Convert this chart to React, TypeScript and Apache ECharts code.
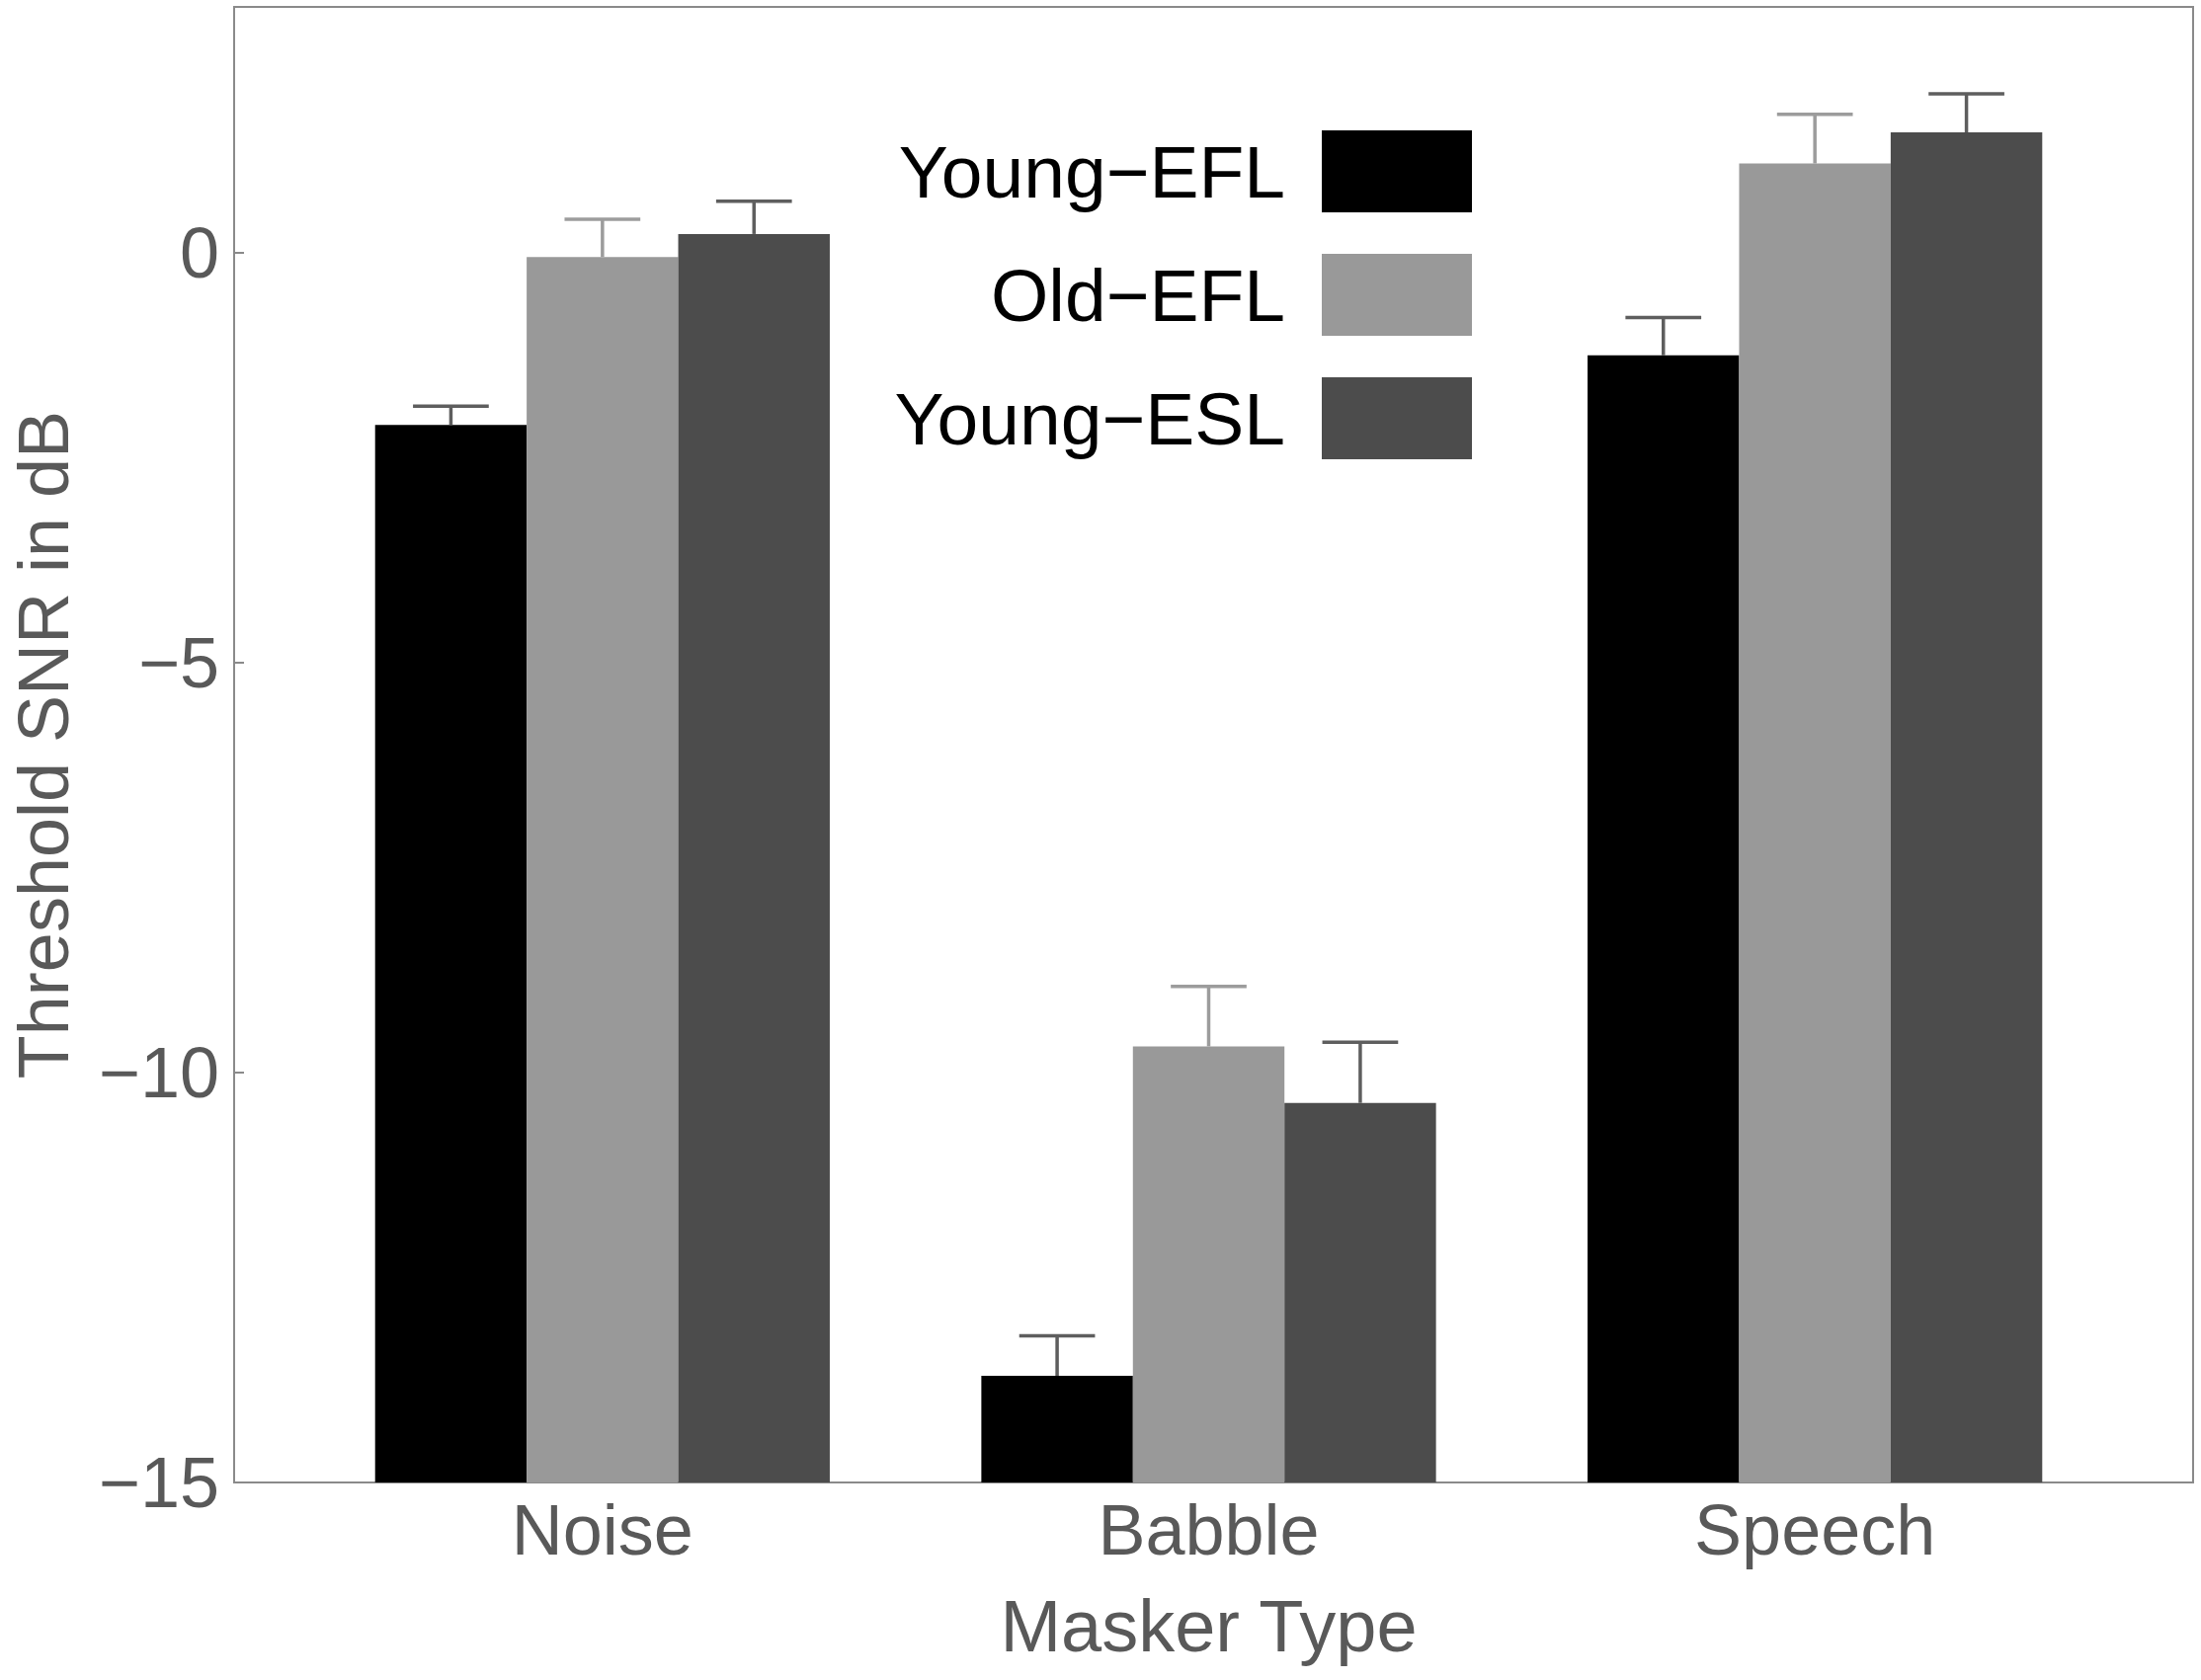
import React, { useEffect, useRef } from "react";
import * as echarts from "echarts";

const categories = ["Noise", "Babble", "Speech"];
const seriesNames = ["Young\u2212EFL", "Old\u2212EFL", "Young\u2212ESL"];
const youngEFL = [-2.1, -13.7, -1.25];
const oldEFL = [-0.05, -9.68, 1.09];
const youngESL = [0.23, -10.37, 1.47];
const youngEFLUpper = [-1.87, -13.21, -0.79];
const oldEFLUpper = [0.41, -8.95, 1.69];
const youngESLUpper = [0.63, -9.63, 1.94];
const yMin = -15;
const yMax = 3;
const yInterval = 5;

const barColors = ["#000000", "#999999", "#4c4c4c"];
const errColors = ["#5e5e5e", "#9c9c9c", "#5e5e5e"];

export default function App() {
  const ref = useRef<HTMLDivElement>(null);
  useEffect(() => {
    if (!ref.current) return;
    const chart = echarts.init(ref.current, null, { renderer: "svg" });
    const values = [youngEFL, oldEFL, youngESL];
    const uppers = [youngEFLUpper, oldEFLUpper, youngESLUpper];
    const font = "'Liberation Sans', Arial, sans-serif";
    const fmt = (v: number) => (v < 0 ? "\u2212" + Math.abs(v) : String(v));

    const barSeries: any[] = [];
    values.forEach((vals, s) => {
      barSeries.push({
        type: "bar",
        name: "_base" + s,
        xAxisIndex: 1,
        yAxisIndex: 1,
        stack: "g" + s,
        stackStrategy: "all",
        barGap: "0%",
        barCategoryGap: "25%",
        itemStyle: { color: "rgba(0,0,0,0)" },
        silent: true,
        data: vals.map(() => yMin),
      });
      barSeries.push({
        type: "bar",
        name: seriesNames[s],
        xAxisIndex: 1,
        yAxisIndex: 1,
        stack: "g" + s,
        stackStrategy: "all",
        barGap: "0%",
        barCategoryGap: "25%",
        itemStyle: { color: barColors[s] },
        data: vals.map((v) => v - yMin),
      });
    });

    const errData: number[][] = [];
    values.forEach((vals, s) => {
      vals.forEach((v, c) => {
        errData.push([c, uppers[s][c], v, s]);
      });
    });

    chart.setOption({
      animation: false,
      backgroundColor: "#ffffff",
      textStyle: { fontFamily: font },
      grid: [
        {
          left: 218,
          right: 8,
          top: 7,
          bottom: 200,
          show: true,
          borderColor: "#8a8a8a",
          borderWidth: 2,
          backgroundColor: "transparent",
        },
        { left: 303, right: 84, top: 7, bottom: 200 },
      ],
      xAxis: [
        { gridIndex: 0, type: "value", min: 0, max: 1, show: false },
        {
          gridIndex: 1,
          type: "category",
          data: categories,
          position: "bottom",
          axisLine: { show: false, onZero: false },
          axisTick: {
            show: true,
            inside: true,
            alignWithLabel: true,
            length: 10,
            lineStyle: { color: "#8a8a8a", width: 2 },
          },
          axisLabel: {
            fontSize: 72,
            color: "#595959",
            margin: 12,
            fontFamily: font,
          },
          name: "Masker Type",
          nameLocation: "middle",
          nameGap: 108,
          nameTextStyle: { fontSize: 74, color: "#595959", fontFamily: font },
        },
      ],
      yAxis: [
        {
          gridIndex: 0,
          type: "value",
          min: yMin,
          max: yMax,
          interval: yInterval,
          splitLine: { show: false },
          axisLine: { show: false },
          axisTick: {
            show: true,
            inside: true,
            length: 10,
            lineStyle: { color: "#8a8a8a", width: 2 },
          },
          axisLabel: {
            fontSize: 72,
            color: "#595959",
            margin: 15,
            showMaxLabel: false,
            fontFamily: font,
            formatter: fmt,
          },
          name: "Threshold SNR in dB",
          nameLocation: "middle",
          nameRotate: 90,
          nameGap: 157,
          nameTextStyle: { fontSize: 72, color: "#595959", fontFamily: font },
        },
        {
          gridIndex: 1,
          type: "value",
          min: yMin,
          max: yMax,
          interval: yInterval,
          show: false,
          splitLine: { show: false },
        },
      ],
      legend: {
        data: seriesNames,
        orient: "vertical",
        align: "right",
        right: 733,
        top: 127,
        itemWidth: 152,
        itemHeight: 83,
        itemGap: 42,
        icon: "rect",
        formatter: "{t|{name}}",
        textStyle: {
          color: "#000000",
          fontSize: 75,
          fontFamily: font,
          rich: {
            t: { fontSize: 75, color: "#000000", fontFamily: font, padding: [0, 32, 0, 0] },
          },
        },
      },
      series: [
        ...barSeries,
        {
          type: "custom",
          name: "_err",
          xAxisIndex: 1,
          yAxisIndex: 1,
          z: 5,
          silent: true,
          data: errData,
          encode: { x: 0, y: 1 },
          renderItem: (params: any, api: any) => {
            const c = api.value(0);
            const hi = api.value(1);
            const v = api.value(2);
            const s = api.value(3);
            const band = api.size([1, 0])[0];
            const bw = band * 0.25;
            const p = api.coord([c, v]);
            const x = p[0] + (s - 1) * bw;
            const yv = p[1];
            const yh = api.coord([c, hi])[1];
            const half = bw / 4;
            const style = { stroke: errColors[s], lineWidth: 3.5, fill: null };
            return {
              type: "group",
              children: [
                { type: "line", shape: { x1: x, y1: yv, x2: x, y2: yh }, style },
                { type: "line", shape: { x1: x - half, y1: yh, x2: x + half, y2: yh }, style },
              ],
            };
          },
        },
      ],
    });
    return () => chart.dispose();
  }, []);
  return (
    <div
      ref={ref}
      style={{ position: "absolute", left: 0, top: 0, width: 2228, height: 1701 }}
    />
  );
}
